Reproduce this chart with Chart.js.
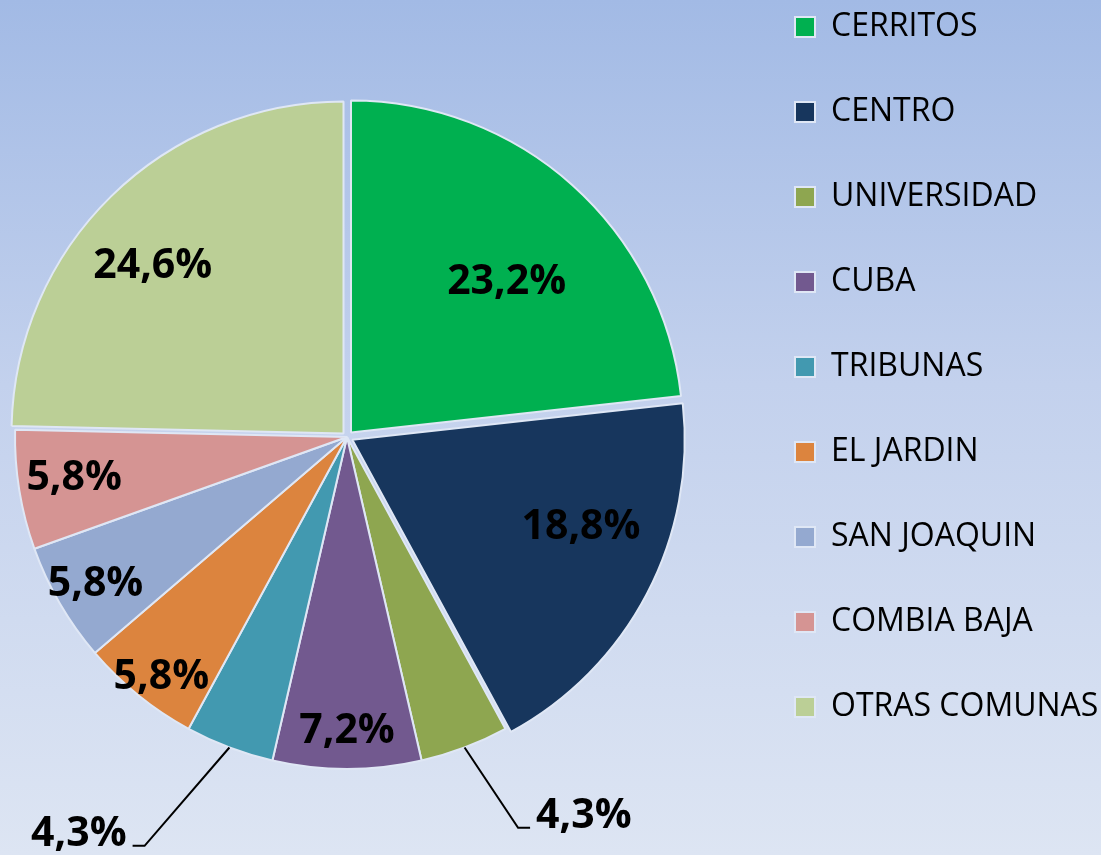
<!DOCTYPE html>
<html>
<head>
<meta charset="utf-8">
<script src="https://cdn.jsdelivr.net/npm/chart.js@4.4.1/dist/chart.umd.min.js"></script>
<style>
  html, body { margin: 0; padding: 0; }
  body {
    position: relative;
    width: 1101px; height: 855px; overflow: hidden;
    background: linear-gradient(to bottom, #a2bae5 0%, #c3d1ed 45%, #dde5f3 100%);
  }
  /* canvas bigger than the window so the pie and legend land where the original has them */
  #wrap { position: absolute; left: -48px; top: -42px; width: 1149px; height: 958px; }
</style>
</head>
<body>
<div id="wrap"><canvas id="chart"></canvas></div>
<script>
// comunas and their share (%)
const comunas = ['CERRITOS', 'CENTRO', 'UNIVERSIDAD', 'CUBA', 'TRIBUNAS', 'EL JARDIN', 'SAN JOAQUIN', 'COMBIA BAJA', 'OTRAS COMUNAS'];
const porcentajes = [23.2, 18.8, 4.3, 7.2, 4.3, 5.8, 5.8, 5.8, 24.6];

const colores = ['#00b050', '#17365d', '#8ea650', '#72598f', '#4299b0', '#dc843e', '#94a9d0', '#d59493', '#bbcf96'];
const separacion = [24, 24, 0, 0, 0, 0, 0, 0, 20];

// where each label sits: fraction of radius, angle shift (deg), side for leader-line labels
const etiquetas = [
  {f: 0.676, d: 3.5},
  {f: 0.753, d: -7},
  {f: 1.285, d: -2.9, side: 'right'},
  {f: 0.879, d: 0},
  {f: 1.374, d: 5.6, side: 'left'},
  {f: 0.907, d: -0.9},
  {f: 0.873, d: 0.3},
  {f: 0.830, d: 1.1},
  {f: 0.784, d: -3.9}
];

const fmt = v => v.toFixed(1).replace('.', ',') + '%';

const labelPlugin = {
  id: 'pieLabels',
  afterDatasetsDraw(chart) {
    const ctx = chart.ctx;
    const meta = chart.getDatasetMeta(0);
    ctx.save();
    ctx.font = 'bold 41px "Open Sans"';
    ctx.fillStyle = '#000';
    ctx.strokeStyle = '#000';
    ctx.lineWidth = 2;
    meta.data.forEach((arc, i) => {
      const p = arc.getProps(['x', 'y', 'startAngle', 'endAngle', 'outerRadius'], true);
      const conf = etiquetas[i];
      const mid = (p.startAngle + p.endAngle) / 2;
      const a = mid + conf.d * Math.PI / 180;
      const lx = p.x + Math.cos(a) * p.outerRadius * conf.f;
      const ly = p.y + Math.sin(a) * p.outerRadius * conf.f;
      const txt = fmt(chart.data.datasets[0].data[i]);
      if (conf.side) {
        const sx = p.x + Math.cos(mid) * p.outerRadius;
        const sy = p.y + Math.sin(mid) * p.outerRadius;
        const dir = conf.side === 'right' ? 1 : -1;
        ctx.beginPath();
        ctx.moveTo(sx, sy);
        ctx.lineTo(lx, ly);
        ctx.lineTo(lx + dir * 12, ly);
        ctx.stroke();
        ctx.textAlign = conf.side === 'right' ? 'left' : 'right';
        ctx.textBaseline = 'alphabetic';
        ctx.fillText(txt, lx + dir * 18, ly);
      } else {
        ctx.textAlign = 'center';
        ctx.textBaseline = 'alphabetic';
        ctx.fillText(txt, lx, ly + 14.5);
      }
    });
    ctx.restore();
  }
};

Chart.defaults.font.family = '"Open Sans", sans-serif';
Chart.defaults.color = '#000';

new Chart(document.getElementById('chart'), {
  type: 'pie',
  data: {
    labels: comunas,
    datasets: [{
      data: porcentajes,
      backgroundColor: colores,
      borderColor: '#dfe7f5',
      borderWidth: 2,
      offset: separacion,
      radius: 332
    }]
  },
  options: {
    responsive: true,
    maintainAspectRatio: false,
    animation: false,
    layout: { padding: 0 },
    plugins: {
      tooltip: { enabled: false },
      legend: {
        position: 'right',
        align: 'start',
        maxWidth: 359,
        labels: {
          boxWidth: 20,
          boxHeight: 20,
          padding: 53,
          color: '#000',
          font: { size: 32, family: '"Open Sans", sans-serif' }
        }
      }
    }
  },
  plugins: [labelPlugin]
});
</script>
</body>
</html>
